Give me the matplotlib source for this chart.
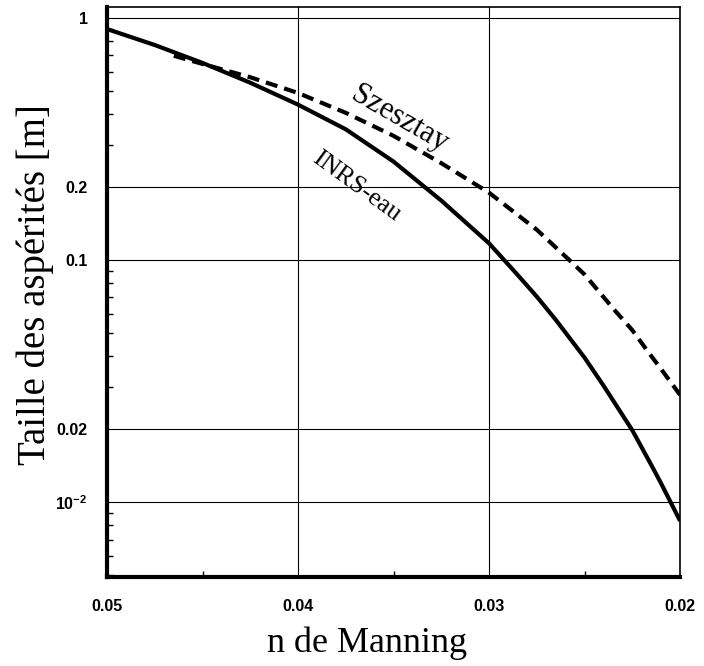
import numpy as np
from matplotlib import pyplot as plt
from matplotlib.ticker import FixedLocator, MultipleLocator, LogLocator, NullFormatter

plt.rcParams['font.family'] = ['Liberation Serif', 'DejaVu Serif']
plt.rcParams['mathtext.fontset'] = 'custom'
plt.rcParams['mathtext.rm'] = 'Liberation Sans:bold'
plt.rcParams['mathtext.bf'] = 'Liberation Sans:bold'

# values
n_inrs = [0.050, 0.0475, 0.045, 0.0425, 0.040, 0.0375, 0.035, 0.0325,
          0.030, 0.0285, 0.0275, 0.0265, 0.025, 0.024, 0.0225, 0.0215,
          0.021, 0.020]
k_inrs = [0.90, 0.773, 0.652, 0.540, 0.4385, 0.3467, 0.255, 0.176,
          0.1172, 0.0867, 0.0706, 0.0565, 0.0395, 0.0302, 0.0198, 0.01419,
          0.01197, 0.00836]

n_szes = [0.0465, 0.045, 0.0425, 0.040, 0.0375, 0.035, 0.0325, 0.030,
          0.0275, 0.0258, 0.025, 0.0235, 0.0225, 0.0217, 0.021, 0.020]
k_szes = [0.698, 0.6457, 0.5689, 0.4898, 0.4055, 0.3258, 0.2512, 0.1897,
          0.1334, 0.100, 0.0871, 0.063, 0.0513, 0.042, 0.0355, 0.0277]

xticks = [0.05, 0.04, 0.03, 0.02]
xtick_labels = ['0.05', '0.04', '0.03', '0.02']
yticks = [1, 0.2, 0.1, 0.02, 0.01]
ytick_labels = ['1', '0.2', '0.1', '0.02', r'$\mathregular{10^{-2}}$']

fig = plt.figure(figsize=(7.04, 6.66), dpi=100)
ax = fig.add_axes([0.152, 0.1336, 0.814, 0.8559])

ax.plot(n_inrs, k_inrs, color='black', lw=3.0, solid_capstyle='butt',
        solid_joinstyle='round')
ax.plot(n_szes, k_szes, color='black', lw=3.0, dashes=(2.9, 1.7))

ax.set_yscale('log')
ax.set_xlim(0.05, 0.02)
ax.set_ylim(0.0049, 1.11)

ax.xaxis.set_major_locator(FixedLocator(xticks))
ax.set_xticklabels(xtick_labels)
ax.xaxis.set_minor_locator(MultipleLocator(0.005))
ax.yaxis.set_major_locator(FixedLocator(yticks))
ax.set_yticklabels(ytick_labels)
ax.yaxis.set_minor_locator(LogLocator(base=10, subs=np.arange(2, 10)))
ax.yaxis.set_minor_formatter(NullFormatter())

ax.grid(True, which='major', color='black', lw=0.8)
ax.tick_params(which='major', length=0)
ax.tick_params(axis='x', which='major', pad=16)
ax.tick_params(axis='y', which='major', pad=14)
ax.tick_params(which='minor', direction='in', length=4, width=1,
               top=False, right=False)
for lab in ax.get_xticklabels() + ax.get_yticklabels():
    lab.set_family('Liberation Sans')
    lab.set_fontweight('bold')
    lab.set_fontsize(11.5)

for s in ['left', 'bottom']:
    ax.spines[s].set_linewidth(3)
for s in ['top', 'right']:
    ax.spines[s].set_linewidth(1.2)

ax.text(0.0347, 0.383, 'Szesztay', fontsize=22, rotation=-30,
        ha='center', va='center')
ax.text(0.03696, 0.202, 'INRS-eau', fontsize=18.5, rotation=-36,
        ha='center', va='center')

fig.text(367 / 704, 1 - 643 / 666, 'n de Manning', fontsize=26,
         ha='center', va='center')
fig.text(35 / 704, 1 - 285 / 666, 'Taille des aspérités [m]', fontsize=28,
         rotation=90, ha='center', va='center')

fig.savefig('out.png', dpi=100)
